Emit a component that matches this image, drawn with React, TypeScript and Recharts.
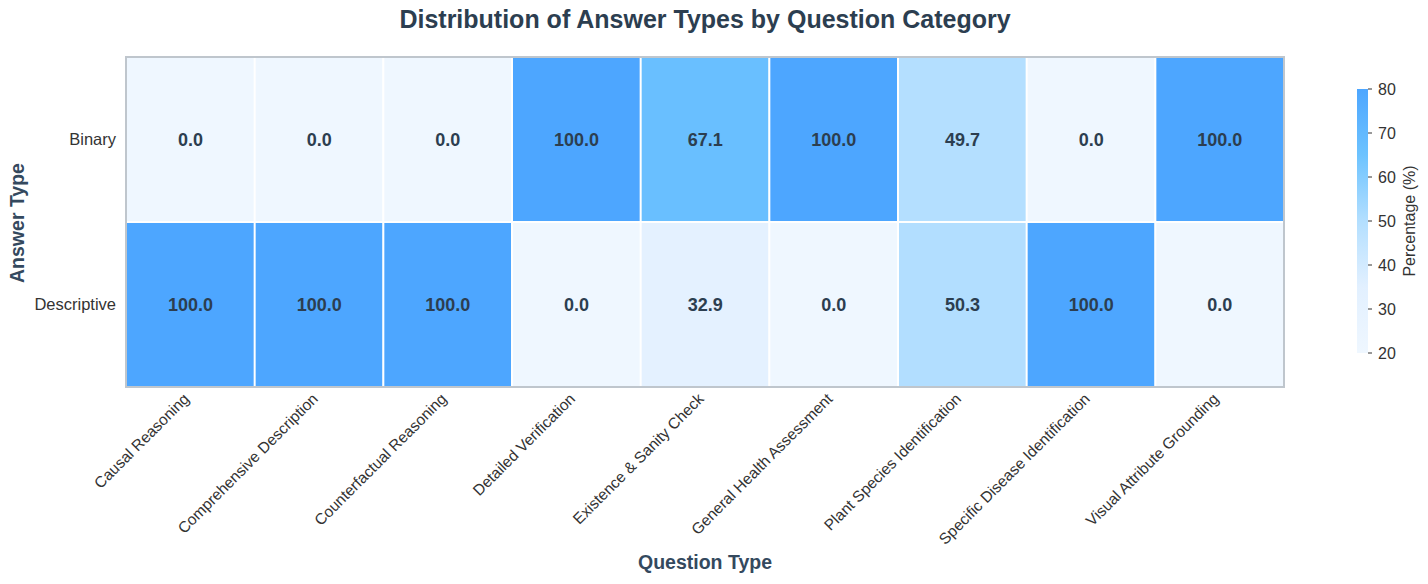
import React from "react";
import { BarChart, Bar, XAxis, YAxis, Cell, LabelList } from "recharts";

const categories = [
  "Causal Reasoning",
  "Comprehensive Description",
  "Counterfactual Reasoning",
  "Detailed Verification",
  "Existence & Sanity Check",
  "General Health Assessment",
  "Plant Species Identification",
  "Specific Disease Identification",
  "Visual Attribute Grounding",
];
const binaryPct = [0, 0, 0, 100, 67.1, 100, 49.7, 0, 100];
const descriptivePct = [100, 100, 100, 0, 32.9, 0, 50.3, 100, 0];
const answerTypes = ["Descriptive", "Binary"];
const colorbarTicks = [20, 30, 40, 50, 60, 70, 80];

const FONT = "'Liberation Sans', Arial, Helvetica, sans-serif";
const DARK = "#2c3e50";
const BORDER = "#bfc6cd";

// colour stops for the clipped 20..80 scale
const stops: Array<[number, [number, number, number]]> = [
  [20, [239, 247, 255]],
  [35, [226, 240, 255]],
  [50, [179, 223, 255]],
  [65, [109, 195, 255]],
  [80, [77, 166, 255]],
];

function colorFor(v: number) {
  const x = Math.max(20, Math.min(80, v));
  for (let i = 0; i < stops.length - 1; i++) {
    const [a, ca] = stops[i];
    const [b, cb] = stops[i + 1];
    if (x <= b) {
      const t = (x - a) / (b - a);
      const c = ca.map((k, j) => Math.round(k + (cb[j] - k) * t));
      return `rgb(${c[0]},${c[1]},${c[2]})`;
    }
  }
  return "rgb(77,166,255)";
}

const data = categories.map((c, i) => ({
  category: c,
  binary: binaryPct[i],
  descriptive: descriptivePct[i],
  rowD: 1,
  rowB: 1,
}));

const XTick = (props: any) => {
  const { x, y, payload } = props;
  return (
    <g transform={`translate(${x - 3},${y + 2})`}>
      <text
        transform="rotate(-45)"
        textAnchor="end"
        dy={4}
        fontSize={15.5}
        fill="#333"
        fontFamily={FONT}
      >
        {payload.value}
      </text>
    </g>
  );
};

const YTick = (props: any) => {
  const { x, y, payload } = props;
  return (
    <text
      x={x - 2}
      y={y}
      dy={5}
      textAnchor="end"
      fontSize={16.5}
      fill="#333"
      fontFamily={FONT}
    >
      {answerTypes[payload.value > 1 ? 1 : 0]}
    </text>
  );
};

const cellLabel = (values: number[]) => (props: any) => {
  const { x, y, width, height, index } = props;
  return (
    <text
      x={x + width / 2}
      y={y + height / 2}
      dy={6}
      textAnchor="middle"
      fontSize={18}
      fontWeight="bold"
      fill={DARK}
      fontFamily={FONT}
    >
      {values[index].toFixed(1)}
    </text>
  );
};

function Colorbar() {
  return (
    <>
      <svg width={0} height={0} style={{ position: "absolute" }}>
        <defs>
          <linearGradient id="cbar" x1="0" y1="1" x2="0" y2="0">
            {stops.map(([v, c]) => (
              <stop
                key={v}
                offset={`${((v - 20) / 60) * 100}%`}
                stopColor={`rgb(${c[0]},${c[1]},${c[2]})`}
              />
            ))}
          </linearGradient>
        </defs>
      </svg>
      <BarChart
        width={100}
        height={290}
        data={[{ k: "cb", range: [20, 80] }]}
        margin={{ top: 9, right: 0, bottom: 17, left: 17 }}
        barCategoryGap={0}
        style={{ position: "absolute", left: 1340, top: 80 }}
      >
        <XAxis dataKey="k" hide />
        <YAxis
          orientation="right"
          type="number"
          domain={[20, 80]}
          ticks={colorbarTicks}
          width={72}
          axisLine={false}
          tickLine={{ stroke: "#333", strokeWidth: 1 }}
          tickSize={4}
          tick={{ fontSize: 16, fill: "#333", fontFamily: FONT }}
          tickMargin={6}
          label={{
            content: () => (
              <text
                transform="translate(75,141) rotate(-90)"
                textAnchor="middle"
                fontSize={16}
                fill="#333"
                fontFamily={FONT}
              >
                Percentage (%)
              </text>
            ),
          }}
        />
        <Bar dataKey="range" fill="url(#cbar)" isAnimationActive={false} />
      </BarChart>
    </>
  );
}

export default function App() {
  return (
    <div
      style={{
        position: "relative",
        width: 1428,
        height: 584,
        background: "#fff",
        fontFamily: FONT,
      }}
    >
      <style>{"body{margin:0}"}</style>
      <div
        style={{
          position: "absolute",
          left: 126,
          width: 1158,
          top: 5,
          textAlign: "center",
          fontSize: 25,
          fontWeight: "bold",
          color: DARK,
        }}
      >
        Distribution of Answer Types by Question Category
      </div>
      <div
        style={{
          position: "absolute",
          left: 126,
          width: 1158,
          top: 551,
          textAlign: "center",
          fontSize: 19.5,
          fontWeight: "bold",
          color: "#34495e",
        }}
      >
        Question Type
      </div>
      <div
        style={{
          position: "absolute",
          left: 17,
          top: 223,
          transform: "translate(-50%,-50%) rotate(-90deg)",
          whiteSpace: "nowrap",
          fontSize: 19.5,
          fontWeight: "bold",
          color: "#34495e",
        }}
      >
        Answer Type
      </div>
      <BarChart
        width={1428}
        height={584}
        data={data}
        margin={{ top: 57, right: 144, bottom: 7, left: 12 }}
        barCategoryGap={0}
        style={{ position: "absolute", left: 0, top: 0 }}
      >
        <XAxis
          dataKey="category"
          height={190}
          interval={0}
          tick={<XTick />}
          tickLine={false}
          axisLine={false}
        />
        <YAxis
          type="number"
          domain={[0, 2]}
          ticks={[0.5, 1.5]}
          width={114}
          tick={<YTick />}
          tickLine={false}
          axisLine={false}
        />
        <Bar
          dataKey="rowD"
          stackId="h"
          stroke="#fff"
          strokeWidth={2}
          isAnimationActive={false}
        >
          {descriptivePct.map((v, i) => (
            <Cell key={i} fill={colorFor(v)} />
          ))}
          <LabelList dataKey="descriptive" content={cellLabel(descriptivePct)} />
        </Bar>
        <Bar
          dataKey="rowB"
          stackId="h"
          stroke="#fff"
          strokeWidth={2}
          isAnimationActive={false}
        >
          {binaryPct.map((v, i) => (
            <Cell key={i} fill={colorFor(v)} />
          ))}
          <LabelList dataKey="binary" content={cellLabel(binaryPct)} />
        </Bar>
      </BarChart>
      {/* frame around the heatmap */}
      <div
        style={{
          position: "absolute",
          left: 125,
          top: 56,
          width: 1160,
          height: 332,
          boxSizing: "border-box",
          border: `2px solid ${BORDER}`,
          pointerEvents: "none",
        }}
      />
      <Colorbar />
    </div>
  );
}
